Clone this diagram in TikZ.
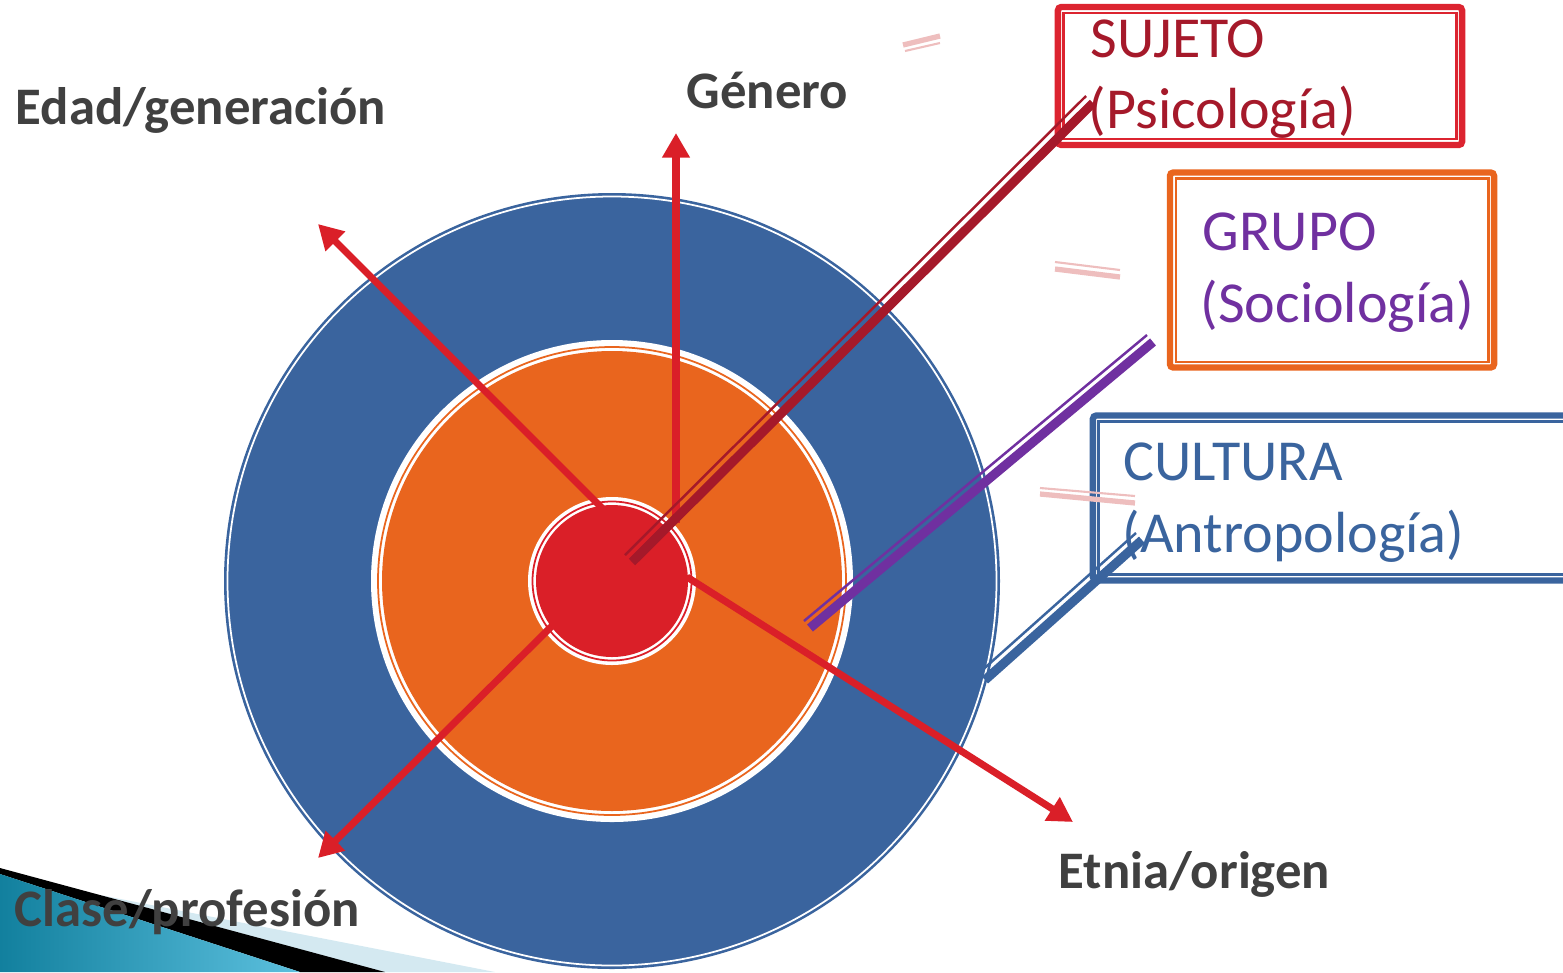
\documentclass[tikz,border=0pt]{standalone}
\usepackage{fontspec}
\setmainfont{Carlito}
\usetikzlibrary{arrows.meta, positioning, calc}

\definecolor{azul}{RGB}{58,100,158}
\definecolor{naranja}{RGB}{233,101,30}
\definecolor{rojo}{RGB}{218,31,40}
\definecolor{rojocaja}{RGB}{220,36,48}
\definecolor{granate}{RGB}{165,25,42}
\definecolor{morado}{RGB}{112,48,160}
\definecolor{gris}{RGB}{64,64,64}
\definecolor{rosa}{RGB}{238,190,190}
\definecolor{tealosc}{RGB}{18,128,158}
\definecolor{tealcla}{RGB}{92,192,222}
\definecolor{celeste}{RGB}{212,233,241}

\begin{document}
\begin{tikzpicture}[x=0.01cm, y=-0.01cm,
    etiqueta/.style={anchor=base west, inner sep=0, text=gris, font=\fontsize{15}{18}\selectfont\bfseries},
    titulo/.style={anchor=base west, inner sep=0, font=\fontsize{16.5}{20}\selectfont},
    caja/.style={draw, line width=1.8pt, rounded corners=1pt, inner sep=0},
    flecha/.style={rojo, line width=2pt, -{Triangle[length=7pt, width=7.5pt]}},
    grueso/.style={line width=2.6pt},
    fino/.style={line width=0.7pt}]
    \useasboundingbox (0,0) rectangle (1563,972);
    \coordinate (c) at (612,581);
    % circulos
    \fill[azul] (c) circle (388);
    \draw[white, line width=0.5pt] (c) circle (384.5);
    \fill[white] (c) circle (241);
    \draw[naranja, line width=0.5pt] (c) circle (234);
    \fill[naranja] (c) circle (230);
    \fill[white] (c) circle (84);
    \draw[rojo, line width=0.5pt] (c) circle (79.5);
    \fill[rojo] (c) circle (76);
    % flechas
    \coordinate (e0) at (602,508);
    \coordinate (e1) at (318,224);
    \coordinate (g0) at (676,523);
    \coordinate (g1) at (676,133);
    \coordinate (k0) at (556,622);
    \coordinate (k1) at (318,858);
    \coordinate (t0) at (687,577);
    \coordinate (t1) at (1073,822);
    \draw[flecha] (e0) -- (e1);
    \draw[flecha] (g0) -- (g1);
    \draw[flecha] (k0) -- (k1);
    \draw[flecha] (t0) -- (t1);
    % cajas
    \node[caja, draw=rojocaja, minimum width=4.04cm, minimum height=1.38cm] (sujeto) at (1260,76) {};
    \draw[rojocaja, fino] ([shift={(9,9)}]sujeto.north west) rectangle ([shift={(-9,-9)}]sujeto.south east);
    \node[caja, draw=naranja, minimum width=3.24cm, minimum height=1.95cm] (grupo) at (1332,270) {};
    \draw[naranja, fino] ([shift={(9,9)}]grupo.north west) rectangle ([shift={(-9,-9)}]grupo.south east);
    \node[caja, draw=azul, minimum width=4.9cm, minimum height=1.65cm] (cultura) at (1338,498) {};
    \draw[azul, fino] ([shift={(9,9)}]cultura.north west) rectangle ([shift={(-9,-9)}]cultura.south east);
    % lineas dobles
    \coordinate (s0) at (632,562);
    \coordinate (s1) at (1093,103);
    \draw[granate, grueso] (s0) -- (s1);
    \draw[granate, fino] ([shift={(-7,-7)}]s0) -- ([shift={(-7,-7)}]s1);
    \coordinate (p0) at (810,628);
    \coordinate (p1) at (1153,342);
    \draw[morado, grueso] (p0) -- (p1);
    \draw[morado, fino] ([shift={(-6,-7)}]p0) -- ([shift={(-6,-7)}]p1);
    \coordinate (a0) at (985,680);
    \coordinate (a1) at (1142,540);
    \draw[azul, grueso] (a0) -- (a1);
    \draw[azul, fino] ([shift={(-6,-7)}]a0) -- ([shift={(-6,-7)}]a1);
    % marcas rosas
    \draw[rosa, line width=1.5pt] (903,45) -- (940,36);
    \draw[rosa, line width=0.6pt] (905,51) -- (940,43);
    \draw[rosa, line width=0.6pt] (1055,262) -- (1120,270);
    \draw[rosa, line width=1.5pt] (1055,269) -- (1120,277);
    \draw[rosa, line width=0.6pt] (1040,488) -- (1135,496);
    \draw[rosa, line width=1.5pt] (1040,494) -- (1135,503);
    % esquina
    \fill[celeste] (100,895) -- (495,972) -- (383,972) -- cycle;
    \fill[black] (0,868) -- (385,972) -- (300,972) -- (0,874) -- cycle;
    \shade[left color=tealosc, right color=tealcla] (0,874) -- (300,972) -- (0,972) -- cycle;
    % textos
    \node[etiqueta] (edad) at (15,124) {Edad/generación};
    \node[etiqueta] (genero) at (686,108) {Género};
    \node[etiqueta] (etnia) at (1058,888) {Etnia/origen};
    \node[etiqueta] (clase) at (14,926) {Clase/profesión};
    \node[titulo, text=granate] (suj1) at (1090,57) {SUJETO};
    \node[titulo, text=granate] (suj2) at (1088,128) {(Psicología)};
    \node[titulo, text=morado] (gru1) at (1202,250) {GRUPO};
    \node[titulo, text=morado] (gru2) at (1200,322) {(Sociología)};
    \node[titulo, text=azul] (cul1) at (1123,480) {CULTURA};
    \node[titulo, text=azul] (cul2) at (1122,552) {(Antropología)};
\end{tikzpicture}
\end{document}
